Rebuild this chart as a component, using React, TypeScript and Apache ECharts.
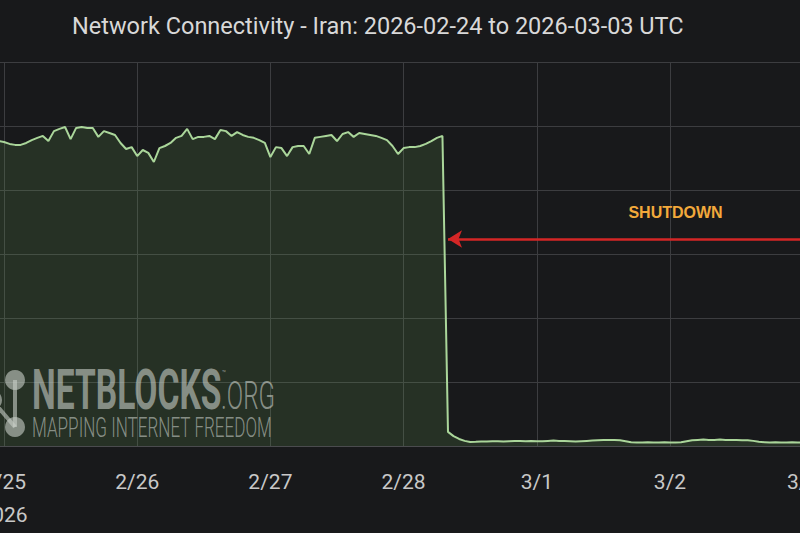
import React, { useEffect, useRef } from "react";
import * as echarts from "echarts";

const TITLE = "Network Connectivity - Iran: 2026-02-24 to 2026-03-03 UTC";
const X_MIN = Date.UTC(2026, 1, 24);
const X_MAX = Date.UTC(2026, 2, 3);
const DAY = 86400000;
const HOUR = 3600000;
const SERIES_START = Date.UTC(2026, 1, 24, 23);

// hourly connectivity values (% of ordinary levels), starting 2026-02-24 23:00 UTC
const connectivity: number[] = [
  95.3,
  95.0, 94.4, 94.1, 94.1, 94.7, 95.6, 96.3, 96.9, 95.3, 98.4, 99.1, 99.7,
  95.9, 99.4, 99.7, 99.4, 99.4, 96.6, 98.4, 97.8, 97.2, 94.7, 92.8, 93.4,
  90.6, 92.5, 91.6, 88.75, 93.1, 93.75, 94.7, 96.3, 96.9, 99.1, 95.9, 96.6,
  96.6, 96.9, 95.9, 98.75, 98.4, 96.9, 98.1, 97.2, 96.6, 96.3, 95.6, 94.7,
  90.3, 93.4, 93.1, 90.6, 93.4, 93.75, 93.75, 91.25, 96.3, 96.6, 96.9, 97.2,
  95.3, 97.5, 98.1, 96.6, 97.8, 97.5, 97.2, 96.9, 96.3, 95.6, 93.75, 91.25,
  93.1, 93.4, 93.4, 93.75, 94.4, 95.3, 96.3, 96.9, 4.4, 3.1, 2.2, 1.6,
  1.25, 1.3, 1.4, 1.4, 1.5, 1.5, 1.4, 1.5, 1.6, 1.6, 1.5, 1.6,
  1.5, 1.5, 1.6, 1.7, 1.6, 1.6, 1.5, 1.4, 1.5, 1.6, 1.7, 1.8,
  1.9, 1.9, 1.9, 1.8, 1.5, 1.2, 1.1, 1.1, 1.2, 1.1, 1.1, 1.2,
  1.1, 1.1, 1.2, 1.5, 1.8, 1.9, 2.0, 1.9, 1.9, 2.0, 1.9, 1.9,
  1.9, 1.8, 1.8, 1.6, 1.3, 1.2, 1.1, 1.2, 1.1, 1.1, 1.2, 1.1,
  1.1,
];

const ARROW_LEVEL = 64.7;
const ARROW_TIP = Date.UTC(2026, 1, 28, 8);
const ARROW_TAIL = Date.UTC(2026, 2, 3, 0);
const LABEL_TEXT = "SHUTDOWN";
const LABEL_TIME = Date.UTC(2026, 2, 2, 1, 0);
const LABEL_LEVEL = 73.1;

// the visible 800px window is a crop of a wider chart
const OFFSET = 150;

export default function App() {
  const ref = useRef<HTMLDivElement>(null);
  useEffect(() => {
    document.body.style.margin = "0";
    document.body.style.overflow = "hidden";
    const chart = echarts.init(ref.current!, null, { renderer: "svg" });
    const data = connectivity.map((v, i) => [SERIES_START + i * HOUR, v]);
    const wm = "rgba(200,206,200,0.6)";
    const o = OFFSET;
    chart.setOption({
      animation: false,
      backgroundColor: "#18191b",
      title: {
        text: TITLE,
        left: 67 + o,
        top: 9,
        textStyle: { fontFamily: "Roboto", fontSize: 23.5, fontWeight: "normal", color: "#d8d8d8" },
      },
      grid: {
        left: o - 129.2,
        right: 960 - o - 803.2,
        top: 62,
        bottom: 87,
        containLabel: false,
        outerBoundsMode: "none",
      },
      xAxis: {
        type: "value",
        min: X_MIN,
        max: X_MAX,
        interval: DAY,
        axisLine: { show: true, lineStyle: { color: "#4a4b4e", width: 1 } },
        axisTick: { show: false },
        splitLine: { show: true, lineStyle: { color: "#3c3d40", width: 1 } },
        axisLabel: {
          color: "#c8c8c8",
          fontFamily: "Roboto",
          fontSize: 21,
          lineHeight: 33,
          margin: 19,
          showMinLabel: true,
          showMaxLabel: true,
          formatter: (v: number) => {
            const d = new Date(v);
            const s = `${d.getUTCMonth() + 1}/${d.getUTCDate()}`;
            return s === "2/25" ? s + "\n2026" : s;
          },
        },
      },
      yAxis: {
        type: "value",
        min: 0,
        max: 120,
        interval: 20,
        axisLine: { show: false },
        axisTick: { show: false },
        axisLabel: { show: false },
        splitLine: { show: true, lineStyle: { color: "#3c3d40", width: 1 } },
      },
      series: [
        {
          type: "line",
          data,
          showSymbol: false,
          symbol: "none",
          lineStyle: { color: "#aad69a", width: 2 },
          areaStyle: { color: "rgba(110,170,90,0.24)" },
          markLine: {
            silent: true,
            symbol: ["none", "arrow"],
            symbolSize: [13, 14],
            label: { show: false },
            lineStyle: { color: "#d42626", width: 2.5, type: "solid" },
            data: [
              [
                { coord: [ARROW_TAIL, ARROW_LEVEL] },
                { coord: [ARROW_TIP, ARROW_LEVEL] },
              ],
            ],
          },
          markPoint: {
            silent: true,
            symbol: "circle",
            symbolSize: 0,
            label: {
              show: true,
              position: "inside",
              formatter: LABEL_TEXT,
              color: "#f2a93b",
              fontFamily: "Liberation Sans",
              fontWeight: "bold",
              fontSize: 16,
            },
            data: [{ coord: [LABEL_TIME, LABEL_LEVEL] }],
          },
        },
      ],
      graphic: [
        { type: "line", z: 100, shape: { x1: o + 15, y1: 380, x2: o + 15, y2: 427 }, style: { stroke: wm, lineWidth: 4 } },
        { type: "line", z: 100, shape: { x1: o - 8, y1: 400, x2: o + 15, y2: 427 }, style: { stroke: wm, lineWidth: 4 } },
        { type: "circle", z: 100, shape: { cx: o + 15, cy: 380, r: 10 }, style: { fill: wm } },
        { type: "circle", z: 100, shape: { cx: o + 15, cy: 427, r: 10 }, style: { fill: wm } },
        { type: "circle", z: 100, shape: { cx: o - 8, cy: 400, r: 10 }, style: { fill: wm } },
        {
          type: "text", z: 100, x: o + 32, y: 390, scaleX: 0.6,
          style: { text: "NETBLOCKS", fill: wm, font: "bold 56px Roboto", textAlign: "left", textVerticalAlign: "middle" },
        },
        {
          type: "text", z: 100, x: o + 221, y: 396, scaleX: 0.62,
          style: { text: ".ORG", fill: wm, font: "300 39px Roboto", textAlign: "left", textVerticalAlign: "middle" },
        },
        {
          type: "text", z: 100, x: o + 222, y: 373, scaleX: 0.8,
          style: { text: "™", fill: wm, font: "8px Roboto", textAlign: "left", textVerticalAlign: "middle" },
        },
        {
          type: "text", z: 100, x: o + 32, y: 427, scaleX: 0.61,
          style: { text: "MAPPING INTERNET FREEDOM", fill: wm, font: "300 28px Roboto", textAlign: "left", textVerticalAlign: "middle" },
        },
      ],
    });
    return () => chart.dispose();
  }, []);
  return (
    <div style={{ position: "absolute", left: 0, top: 0, width: 800, height: 533, overflow: "hidden" }}>
      <div
        ref={ref}
        style={{ position: "absolute", left: -OFFSET, top: 0, width: 960, height: 533 }}
      />
    </div>
  );
}
